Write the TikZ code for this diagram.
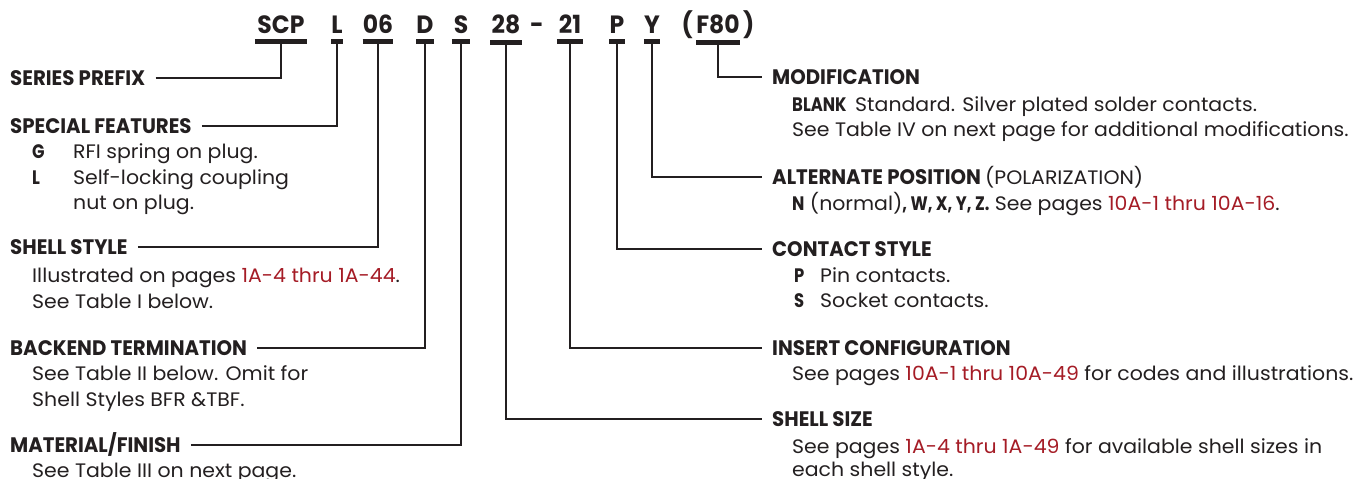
\documentclass[tikz,border=0pt]{standalone}
\usepackage{fontspec}
\setmainfont{Poppins}[FakeStretch=1.05]
\newfontfamily\headfont{Poppins}[FakeStretch=0.94]
\newfontfamily\tagfont{Poppins}[FakeStretch=0.84]
\usetikzlibrary{calc,positioning}
\definecolor{ink}{RGB}{35,31,32}
\definecolor{pagered}{RGB}{165,28,38}
\newcommand{\pg}[1]{\textcolor{pagered}{#1}}
\newcommand{\hb}[1]{{\tagfont\bfseries #1}}

\begin{document}
\begin{tikzpicture}[x={(1pt,0)}, y={(0,-1pt)},
    head/.style={anchor=base west, inner sep=0pt, text height=14.5pt, text depth=0pt,
      font=\headfont\bfseries\fontsize{21}{24}\selectfont, text=ink},
    body/.style={anchor=base west, inner sep=0pt, font=\fontsize{19.5}{24}\selectfont, text=ink},
    code/.style={anchor=base, inner xsep=0pt, inner ysep=7.5pt,
      font=\headfont\bfseries\fontsize{25}{28}\selectfont, text=ink},
    leader/.style={line width=2.5pt, draw=ink},
    bar/.style={line width=5pt, draw=ink}]
			%%%%% START %%%%%
			\useasboundingbox (0,0) rectangle (1361,479);

			% part number
			\node[code, minimum width=52pt] (cPrefix) at (281, 34) {SCP};
			\node[code, minimum width=10pt] (cFeat) at (337, 34) {L};
			\node[code, minimum width=30pt] (cStyle) at (378, 34) {06};
			\node[code, minimum width=17pt] (cBack) at (425, 34) {D};
			\node[code, minimum width=18pt] (cMat) at (461, 34) {S};
			\node[code, minimum width=31pt] (cSize) at (506, 34) {28};
			\node[code] (cDash) at (537, 34) {-};
			\node[code, minimum width=26pt] (cInsert) at (570, 34) {21};
			\node[code, minimum width=13pt] (cContact) at (617, 34) {P};
			\node[code, minimum width=16pt] (cAlt) at (652, 34) {Y};
			\node[code, minimum width=43pt] (cModif) at (718, 34) {F80};
			\node[code, base left=3pt of cModif] (cOpen) {(};
			\node[code, base right=3pt of cModif] (cClose) {)};

			\foreach \c in {cPrefix,cFeat,cStyle,cBack,cMat,cSize,cInsert,cContact,cAlt,cModif}
				\draw[bar] (\c.south west) -- (\c.south east);

			% left column
			\node[head] (hPrefix) at (10, 85) {SERIES PREFIX};

			\node[head] (hFeat) at (10, 133) {SPECIAL FEATURES};
			\node[body] (dFeatG) at (32, 158) {\makebox[41pt][l]{\hb{G}}RFI spring on plug.};
			\node[body] (dFeatL) at (32, 184) {\makebox[41pt][l]{\hb{L}}Self-locking coupling};
			\node[body] (dFeatN) at (73, 209) {nut on plug.};

			\node[head] (hStyle) at (10, 254) {SHELL STYLE};
			\node[body] (dStyleA) at (32, 282) {Illustrated on pages \pg{1A-4 thru 1A-44}.};
			\node[body] (dStyleB) at (32, 308) {See Table I below.};

			\node[head] (hBack) at (10, 355) {BACKEND TERMINATION};
			\node[body] (dBackA) at (32, 380) {See Table II below. Omit for};
			\node[body] (dBackB) at (32, 406) {Shell Styles BFR \&TBF.};

			\node[head] (hMat) at (10, 452) {MATERIAL/FINISH};
			\node[body] (dMat) at (32, 477) {See Table III on next page.};

			% right column
			\node[head] (hModif) at (772, 84) {MODIFICATION};
			\node[body] (dModifA) at (792, 111) {\makebox[63pt][l]{\hb{BLANK}}Standard. Silver plated solder contacts.};
			\node[body] (dModifB) at (792, 136) {See Table IV on next page for additional modifications.};

			\node[head] (hAlt) at (772, 184) {ALTERNATE POSITION {\normalfont\fontsize{19.5}{24}\selectfont(POLARIZATION)}};
			\node[body] (dAlt) at (792, 210) {\hb{N} (normal)\hb{, W, X, Y, Z.} See pages \pg{10A-1 thru 10A-16}.};

			\node[head] (hContact) at (772, 256) {CONTACT STYLE};
			\node[body] (dContactP) at (794, 282) {\makebox[26pt][l]{\hb{P}}Pin contacts.};
			\node[body] (dContactS) at (794, 307) {\makebox[26pt][l]{\hb{S}}Socket contacts.};

			\node[head] (hInsert) at (772, 355) {INSERT CONFIGURATION};
			\node[body] (dInsert) at (792, 380) {See pages \pg{10A-1 thru 10A-49} for codes and illustrations.};

			\node[head] (hSize) at (772, 426) {SHELL SIZE};
			\node[body] (dSizeA) at (792, 453) {See pages \pg{1A-4 thru 1A-49} for available shell sizes in};
			\node[body] (dSizeB) at (792, 476) {each shell style.};

			% leaders
			\draw[leader, shorten <=10pt] (hPrefix.east) -| (cPrefix.south);
			\draw[leader, shorten <=10pt] (hFeat.east) -| (cFeat.south);
			\draw[leader, shorten <=10pt] (hStyle.east) -| (cStyle.south);
			\draw[leader, shorten <=10pt] (hBack.east) -| (cBack.south);
			\draw[leader, shorten <=10pt] (hMat.east) -| (cMat.south);

			\draw[leader, shorten >=10pt] (cModif.south) |- (hModif.west);
			\draw[leader, shorten >=10pt] (cAlt.south) |- (hAlt.west);
			\draw[leader, shorten >=10pt] (cContact.south) |- (hContact.west);
			\draw[leader, shorten >=10pt] (cInsert.south) |- (hInsert.west);
			\draw[leader, shorten >=10pt] (cSize.south) |- (hSize.west);
			%%%%% END %%%%%
\end{tikzpicture}
\end{document}
